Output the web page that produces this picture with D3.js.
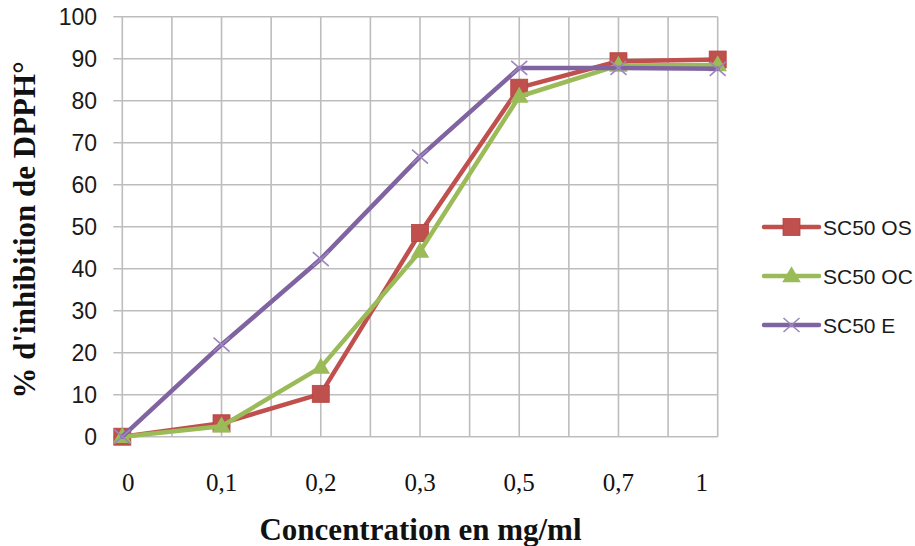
<!DOCTYPE html>
<html>
<head>
<meta charset="utf-8">
<script src="https://cdn.jsdelivr.net/npm/d3@7"></script>
<style>
  body { margin: 0; background: #fff; }
  #graf { width: 915px; height: 546px; }
</style>
</head>
<body>
<div id="graf"></div>
<script>
const concentrations = ["0", "0,1", "0,2", "0,3", "0,5", "0,7", "1"]
const sc50OS = [0, 3.2, 10.2, 48.5, 83.1, 89.4, 89.8]
const sc50OC = [0, 2.5, 16.5, 44.1, 81.0, 88.4, 88.5]
const sc50E = [0, 21.9, 42.3, 66.7, 87.8, 87.8, 87.6]
const yTicks = [0, 10, 20, 30, 40, 50, 60, 70, 80, 90, 100]

const series = [
  { nombre: "SC50 OS", valores: sc50OS, color: "#C0504D", marca: "square" },
  { nombre: "SC50 OC", valores: sc50OC, color: "#9BBB59", marca: "triangle" },
  { nombre: "SC50 E", valores: sc50E, color: "#8064A2", marca: "cross" },
]

const ancho = 915
const alto = 546
const izq = 122.3
const der = 717.7
const arriba = 16.7
const abajo = 436.7

const svg = d3.select("#graf")
  .append("svg")
  .attr("width", ancho)
  .attr("height", alto)

const x = d3.scalePoint().domain(concentrations).range([izq, der])
const y = d3.scaleLinear().domain([0, 100]).range([abajo, arriba])

// rejilla: lineas verticales cada media categoria
const paso = x.step()
const grid = svg.append("g")
d3.range(0, concentrations.length * 2 - 1).forEach((i) => {
  const gx = izq + (i * paso) / 2
  grid.append("line")
    .attr("x1", gx).attr("x2", gx)
    .attr("y1", arriba).attr("y2", abajo)
    .attr("stroke", "#bdbdbd").attr("stroke-width", 1.6)
})
yTicks.forEach((t) => {
  grid.append("line")
    .attr("x1", izq - 9).attr("x2", der)
    .attr("y1", y(t)).attr("y2", y(t))
    .attr("stroke", "#bdbdbd").attr("stroke-width", 1.6)
})

// etiquetas eje y
svg.append("g")
  .selectAll("text")
  .data(yTicks)
  .join("text")
  .attr("x", 97)
  .attr("y", (d) => y(d) + 8)
  .attr("text-anchor", "end")
  .attr("font-family", "Liberation Sans, Arial, sans-serif")
  .attr("font-size", 23)
  .attr("fill", "#1a1a1a")
  .text((d) => d)

// etiquetas eje x
svg.append("g")
  .selectAll("text")
  .data(concentrations)
  .join("text")
  .attr("x", (d, i) => x(d) + (i === 0 ? 6 : i === concentrations.length - 1 ? -16 : 0))
  .attr("y", 491)
  .attr("text-anchor", "middle")
  .attr("font-family", "Liberation Serif, Times New Roman, serif")
  .attr("font-size", 25)
  .attr("fill", "#111")
  .text((d) => d)

// titulos
svg.append("text")
  .attr("x", 420.5)
  .attr("y", 540)
  .attr("text-anchor", "middle")
  .attr("font-family", "Liberation Serif, Times New Roman, serif")
  .attr("font-weight", "bold")
  .attr("font-size", 31)
  .attr("fill", "#111")
  .text("Concentration en mg/ml")

svg.append("text")
  .attr("transform", "translate(35,230) rotate(-90)")
  .attr("text-anchor", "middle")
  .attr("font-family", "Liberation Serif, Times New Roman, serif")
  .attr("font-weight", "bold")
  .attr("font-size", 31)
  .attr("fill", "#111")
  .text("% d'inhibition de DPPH°")

const marcador = (g, tipo, color) => {
  if (tipo === "square") {
    g.append("rect")
      .attr("x", -8.5).attr("y", -8.5)
      .attr("width", 17).attr("height", 17)
      .attr("fill", color)
      .attr("stroke", "#b5423f").attr("stroke-width", 0.8)
  } else if (tipo === "triangle") {
    g.append("path")
      .attr("d", d3.symbol().type(d3.symbolTriangle).size(150)())
      .attr("transform", "translate(0,1)")
      .attr("fill", color)
  } else {
    g.append("path")
      .attr("d", "M-8,-7L8,7M-8,7L8,-7")
      .attr("stroke", "#9d86bd")
      .attr("stroke-width", 1.6)
      .attr("fill", "none")
  }
}

const linea = d3.line()
  .x((d, i) => x(concentrations[i]))
  .y((d) => y(d))

series.forEach((s) => {
  const g = svg.append("g")
  g.append("path")
    .datum(s.valores)
    .attr("d", linea)
    .attr("fill", "none")
    .attr("stroke", s.color)
    .attr("stroke-width", 4.5)
    .attr("stroke-linejoin", "round")
    .attr("stroke-linecap", "round")
  s.valores.forEach((v, i) => {
    const m = g.append("g")
      .attr("transform", `translate(${x(concentrations[i])},${y(v)})`)
    marcador(m, s.marca, s.color)
  })
})

// leyenda
const leyenda = svg.append("g")
series.forEach((s, i) => {
  const ly = 227 + i * 49
  leyenda.append("line")
    .attr("x1", 764).attr("x2", 819)
    .attr("y1", ly).attr("y2", ly)
    .attr("stroke", s.color)
    .attr("stroke-width", 4.5)
    .attr("stroke-linecap", "round")
  const m = leyenda.append("g").attr("transform", `translate(791.5,${ly})`)
  marcador(m, s.marca, s.color)
  leyenda.append("text")
    .attr("x", 823)
    .attr("y", ly + 7.5)
    .attr("font-family", "Liberation Sans, Arial, sans-serif")
    .attr("font-size", 21)
    .attr("fill", "#1a1a1a")
    .text(s.nombre)
})
</script>
</body>
</html>
